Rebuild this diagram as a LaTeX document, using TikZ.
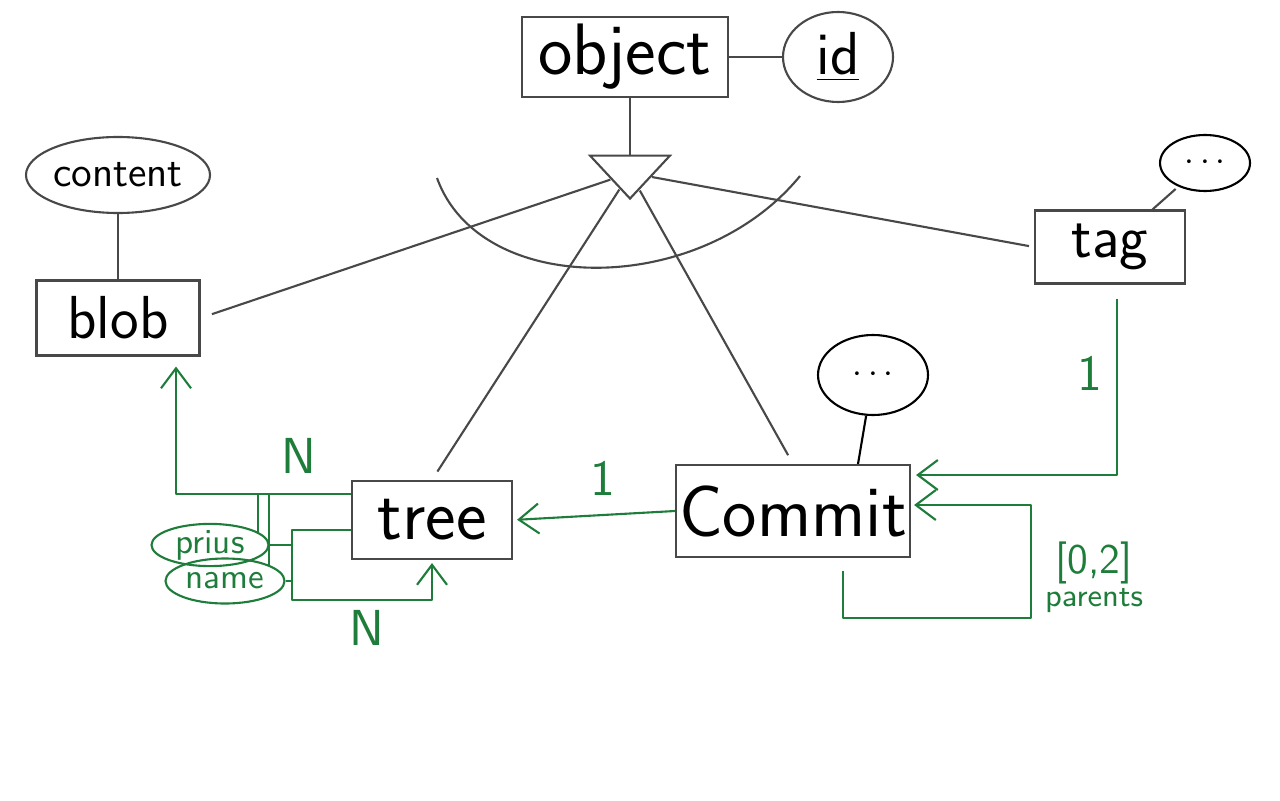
\documentclass[tikz,border=0pt]{standalone}
\usetikzlibrary{positioning}
\usetikzlibrary{er}
\usetikzlibrary{shapes.geometric}
\usetikzlibrary{arrows.meta}
\definecolor{pen}{RGB}{72,72,72}
\definecolor{penGreen}{RGB}{30,125,58}

\begin{document}
\begin{tikzpicture}
    [
    on grid,
    font=\sffamily,
    every entity/.style={draw=pen, semithick, inner sep=0pt},
    every attribute/.style={draw=pen, semithick, inner sep=0pt},
    every isa/.style={draw=pen, semithick, isosceles triangle, isosceles triangle stretches,
        shape border rotate=-90, minimum width=0.8cm, minimum height=0.43cm, inner sep=0pt},
    line/.style={draw=pen, semithick},
    link/.style={draw=penGreen, semithick, line join=round},
    arrow/.style={link, -{Straight Barb[length=2mm, width=3mm]}},
    card/.style={text=penGreen, font=\sffamily\Large},
    ]

    \useasboundingbox (0,0) rectangle (12.8,-8);

    \node[entity, minimum width=2.06cm, minimum height=0.8cm, font=\sffamily\huge] (ent_object) at (6.25,-0.57)
    {object};
    \node[attribute, right = 2.13cm of ent_object, minimum width=1.1cm, minimum height=0.9cm, font=\sffamily\LARGE] (att_id)
    {\underline{id}};
    \draw[line] (ent_object) -- (att_id);

    \node[every isa, below right = 1.16cm and 0.05cm of ent_object] (isa_object) {};
    \draw[line] (ent_object.south -| isa_object) -- (isa_object);
    \draw[line] (4.37,-1.78) .. controls (4.80,-2.98) and (7.00,-2.98) .. (8.00,-1.76);

    \node[entity, below left = 1.45cm and 5.12cm of isa_object, minimum width=1.63cm, minimum height=0.75cm, font=\sffamily\LARGE] (ent_blob)
    {blob};
    \node[attribute, above = 1.43cm of ent_blob, minimum width=1.84cm, minimum height=0.76cm, inner xsep=-6pt, font=\sffamily\large] (att_content)
    {content};
    \draw[line] (att_content) -- (ent_blob);

    \node[entity, below right = 0.74cm and 4.80cm of isa_object, minimum width=1.5cm, minimum height=0.73cm, font=\sffamily\LARGE] (ent_tag)
    {tag};
    \node[attribute, above right = 0.84cm and 0.95cm of ent_tag, minimum width=0.9cm, minimum height=0.56cm, draw=black] (att_tag)
    {$\cdots$};
    \draw[line, shorten <=1pt] (att_tag) -- (ent_tag);

    \node[entity, below left = 3.47cm and 1.98cm of isa_object, minimum width=1.6cm, minimum height=0.78cm, font=\sffamily\huge] (ent_tree)
    {tree};
    \node[entity, below right = 3.38cm and 1.63cm of isa_object, minimum width=2.34cm, minimum height=0.92cm, font=\sffamily\huge] (ent_commit)
    {Commit};
    \node[attribute, above right = 1.36cm and 0.80cm of ent_commit, minimum width=1.1cm, minimum height=0.8cm, draw=black] (att_commit)
    {$\cdots$};
    \draw[line, draw=black] (att_commit) -- ([xshift=0.65cm]ent_commit.north);

    % specialisations of object
    \draw[line, shorten >=0.12cm] (isa_object) -- (ent_blob.east);
    \draw[line, shorten >=0.1cm] (isa_object) -- (ent_tree.north);
    \draw[line, shorten >=0.1cm] (isa_object) -- (ent_commit.north);
    \draw[line, shorten >=0.05cm] (isa_object) -- (ent_tag.west);

    % relationships
    \coordinate (blob_link) at ([yshift=-0.14cm]ent_tree.north west);
    \draw[arrow, shorten >=0.1cm] (blob_link) -| ([xshift=0.58cm]ent_blob.south);
    \node[card, above left = 0.38cm and 0.52cm of blob_link, anchor=center] (card_blob) {N};

    \draw[arrow, shorten >=0.03cm] ([yshift=-0.1cm]ent_tree.west) -- ++(-0.59cm,0) coordinate (tree_loop)
        |- ([yshift=-0.4cm]ent_tree.south) -- (ent_tree.south);
    \node[card, below right = 0.98cm and 0.75cm of tree_loop, anchor=center] (card_tree) {N};

    \node[attribute, below left = 0.25cm and 2.22cm of ent_tree, draw=penGreen, text=penGreen,
        minimum width=1.17cm, minimum height=0.4cm, font=\sffamily] (att_prius)
    {prius};
    \node[attribute, below right = 0.36cm and 0.15cm of att_prius, draw=penGreen, text=penGreen,
        minimum width=1.19cm, minimum height=0.45cm, font=\sffamily] (att_name)
    {name};
    \draw[link] (att_prius.15) -- (att_prius.15 |- blob_link);
    \draw[link] (att_name.20) -- (att_name.20 |- blob_link);
    \draw[link] (att_prius.east) -- (att_prius.east -| tree_loop);
    \draw[link] (att_name.east) -- (att_name.east -| tree_loop);

    \draw[arrow, shorten >=0.04cm] (ent_commit.west) -- (ent_tree.east);
    \node[card, above left = 0.33cm and 0.72cm of ent_commit.west, anchor=center] (card_commit) {1};

    \draw[arrow, shorten >=0.05cm] ([xshift=0.07cm, yshift=-0.14cm]ent_tag.south) |- ([yshift=0.36cm]ent_commit.east);
    \node[card, below left = 0.89cm and 0.2cm of ent_tag.south, anchor=center] (card_tag) {1};

    \draw[arrow, shorten >=0.03cm] ([xshift=0.5cm, yshift=-0.13cm]ent_commit.south) -- ++(0,-0.47cm)
        -| ([xshift=1.2cm, yshift=0.06cm]ent_commit.east) coordinate (parent_loop) -- ([yshift=0.06cm]ent_commit.east);
    \node[card, below right = 0.58cm and 0.63cm of parent_loop, anchor=center, font=\sffamily\large] (card_parents) {[0,2]};
    \node[text=penGreen, below = 0.38cm of card_parents, font=\sffamily\small] (lbl_parents) {parents};
\end{tikzpicture}
\end{document}
